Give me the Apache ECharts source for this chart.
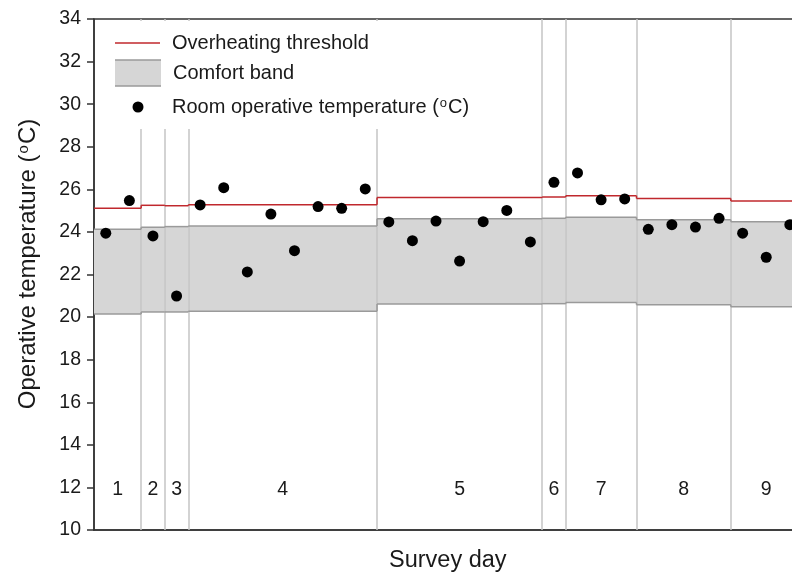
<!DOCTYPE html>
<html>
<head>
<meta charset="utf-8">
<script src="https://cdn.jsdelivr.net/npm/echarts@6/dist/echarts.min.js"></script>
<style>
html,body{margin:0;padding:0;background:#fff;}
#chart{width:792px;height:573px;}
</style>
</head>
<body>
<div id="chart"></div>
<script>
// ---- data ----
const dayLabels = ['1','2','3','4','5','6','7','8','9'];
const dayCounts = [2, 1, 1, 8, 7, 1, 3, 4, 3];
const roomTemps = [23.94, 25.47, 23.81, 20.99, 25.27, 26.08, 22.12, 24.84, 23.12, 25.19,
                   25.11, 26.02, 24.47, 23.59, 24.51, 22.63, 24.48, 25.01, 23.53, 26.33,
                   26.77, 25.51, 25.55, 24.12, 24.34, 24.23, 24.64, 23.94, 22.81, 24.34];
const bandUpper = [24.12, 24.22, 24.25, 24.28, 24.62, 24.64, 24.69, 24.57, 24.48];
const bandLower = [20.15, 20.24, 20.24, 20.27, 20.62, 20.63, 20.68, 20.58, 20.49];
const threshold = [25.11, 25.25, 25.23, 25.28, 25.62, 25.64, 25.70, 25.57, 25.45];
const yTicks = {min: 10, max: 34, interval: 2};

// ---- derived ----
const bounds = [0.5];
dayCounts.forEach(c => bounds.push(bounds[bounds.length - 1] + c));
// [start, end, value, previous value]
function stepData(vals) {
  return vals.map((v, d) => [bounds[d], bounds[d + 1], v, d > 0 ? vals[d - 1] : v]);
}
const bandRects = bandUpper.map((u, d) => [bounds[d], bounds[d + 1], bandLower[d], u]);
const points = roomTemps.map((t, i) => [i + 1, t]);
const dayLabelData = dayLabels.map((l, d) => [(bounds[d] + bounds[d + 1]) / 2, 12, l]);
const innerBounds = bounds.slice(1, -1);

const FONT = 'Liberation Sans, Arial, sans-serif';

function stepRender(color) {
  return function (params, api) {
    const a = api.coord([api.value(0), api.value(2)]);
    const b = api.coord([api.value(1), api.value(2)]);
    const p = api.coord([api.value(0), api.value(3)]);
    const st = {stroke: color, lineWidth: 1.5, fill: null};
    return {type: 'group', children: [
      {type: 'line', shape: {x1: a[0], y1: a[1], x2: b[0], y2: b[1]}, style: st},
      {type: 'line', shape: {x1: p[0], y1: p[1], x2: a[0], y2: a[1]}, style: st}
    ]};
  };
}

const chart = echarts.init(document.getElementById('chart'));
chart.setOption({
  animation: false,
  backgroundColor: '#fff',
  grid: {left: 94, right: -9.6, top: 19, bottom: 43, outerBoundsMode: 'none', containLabel: false,
         show: true, borderColor: '#333', borderWidth: 1.5, backgroundColor: 'transparent'},
  xAxis: {
    type: 'value', min: bounds[0], max: bounds[bounds.length - 1],
    name: 'Survey day', nameLocation: 'middle', nameGap: 19,
    nameTextStyle: {fontFamily: FONT, fontSize: 23.5, color: '#1a1a1a'},
    axisLine: {show: true, lineStyle: {color: '#333', width: 1.5}},
    axisTick: {show: false}, axisLabel: {show: false}, splitLine: {show: false}
  },
  yAxis: {
    type: 'value', min: yTicks.min, max: yTicks.max, interval: yTicks.interval,
    name: 'Operative temperature ({sup|o}C)', nameLocation: 'middle', nameGap: 53, nameRotate: 90,
    nameTextStyle: {fontFamily: FONT, fontSize: 24, color: '#1a1a1a', padding: [0, 0, 0, 21],
      rich: {sup: {fontFamily: FONT, fontSize: 15, color: '#1a1a1a', verticalAlign: 'top', padding: [0, 1, 10, 1]}}},
    axisLine: {show: true, lineStyle: {color: '#333', width: 1.5}},
    axisTick: {show: true, inside: false, length: 7, lineStyle: {color: '#333', width: 1.5}},
    axisLabel: {fontFamily: FONT, fontSize: 19.5, color: '#1a1a1a', margin: 13},
    splitLine: {show: false}
  },
  series: [
    {
      type: 'custom', name: 'Comfort band', z: 1, silent: true,
      data: bandRects,
      encode: {x: [0, 1], y: [2, 3]},
      renderItem: function (params, api) {
        const p1 = api.coord([api.value(0), api.value(3)]);
        const p2 = api.coord([api.value(1), api.value(2)]);
        return {type: 'rect', shape: {x: p1[0], y: p1[1], width: p2[0] - p1[0], height: p2[1] - p1[1]},
                style: {fill: '#d6d6d6'}};
      },
      markLine: {
        silent: true, symbol: 'none', label: {show: false}, z: 2,
        lineStyle: {color: '#c4c4c4', width: 1.5, type: 'solid'},
        data: innerBounds.map(b => ({xAxis: b}))
      }
    },
    {type: 'custom', name: 'band-upper', z: 3, silent: true, data: stepData(bandUpper),
     encode: {x: [0, 1], y: [2, 3]}, renderItem: stepRender('#9a9a9a')},
    {type: 'custom', name: 'band-lower', z: 3, silent: true, data: stepData(bandLower),
     encode: {x: [0, 1], y: [2, 3]}, renderItem: stepRender('#9a9a9a')},
    {type: 'custom', name: 'Overheating threshold', z: 4, silent: true, data: stepData(threshold),
     encode: {x: [0, 1], y: [2, 3]}, renderItem: stepRender('#c0282d')},
    {type: 'scatter', name: 'Room operative temperature', data: points, symbol: 'circle', symbolSize: 11, z: 5,
     itemStyle: {color: '#000', opacity: 1}},
    {type: 'scatter', name: 'day labels', data: dayLabelData, symbolSize: 0, z: 6, silent: true,
     itemStyle: {opacity: 1},
     label: {show: true, position: 'inside', offset: [0, 2], formatter: p => p.value[2], fontFamily: FONT, fontSize: 19.5, color: '#1a1a1a'}}
  ],
  graphic: [
    {type: 'rect', z: 100, shape: {x: 96, y: 21, width: 420, height: 108}, style: {fill: '#fff'}},
    {type: 'line', z: 101, shape: {x1: 115, y1: 43, x2: 160, y2: 43}, style: {stroke: '#c0282d', lineWidth: 1.5}},
    {type: 'text', z: 101, x: 172, y: 43, style: {text: 'Overheating threshold', fontFamily: FONT, fontSize: 20, fill: '#1a1a1a', verticalAlign: 'middle'}},
    {type: 'rect', z: 101, shape: {x: 115, y: 60, width: 46, height: 26}, style: {fill: '#d6d6d6'}},
    {type: 'line', z: 102, shape: {x1: 115, y1: 60, x2: 161, y2: 60}, style: {stroke: '#9a9a9a', lineWidth: 1.5}},
    {type: 'line', z: 102, shape: {x1: 115, y1: 86, x2: 161, y2: 86}, style: {stroke: '#9a9a9a', lineWidth: 1.5}},
    {type: 'text', z: 101, x: 173, y: 73, style: {text: 'Comfort band', fontFamily: FONT, fontSize: 20, fill: '#1a1a1a', verticalAlign: 'middle'}},
    {type: 'circle', z: 101, shape: {cx: 138, cy: 107, r: 5.5}, style: {fill: '#000'}},
    {type: 'text', z: 101, x: 172, y: 107, style: {text: 'Room operative temperature ({sup|o}C)', fontFamily: FONT, fontSize: 20, fill: '#1a1a1a', verticalAlign: 'middle',
      rich: {sup: {fontFamily: FONT, fontSize: 13, fill: '#1a1a1a', verticalAlign: 'top', padding: [0, 1, 8, 1]}}}}
  ]
});
</script>
</body>
</html>
